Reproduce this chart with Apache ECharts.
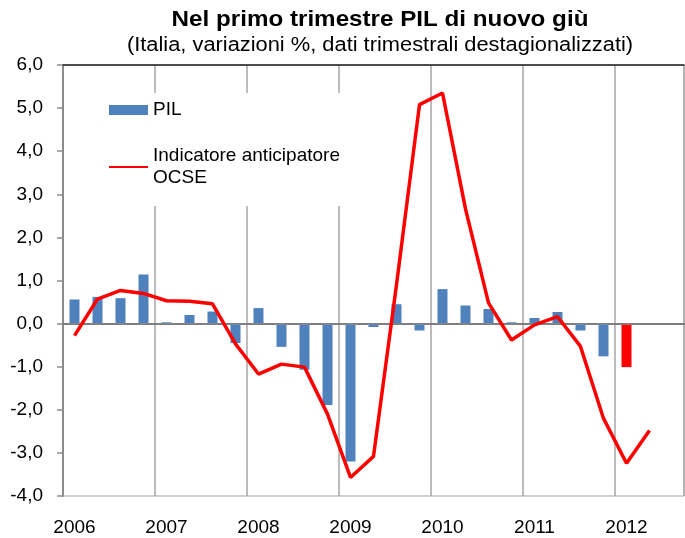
<!DOCTYPE html>
<html>
<head>
<meta charset="utf-8">
<script src="https://cdn.jsdelivr.net/npm/echarts@6/dist/echarts.min.js"></script>
<style>
  html, body { margin: 0; padding: 0; background: #fff; }
  #chart { width: 685px; height: 538px; }
</style>
</head>
<body>
<div id="chart"></div>
<script>
// trimestri 2006 T1 .. 2012 T3
const quarters = [
  '2006-T1', '2006-T2', '2006-T3', '2006-T4',
  '2007-T1', '2007-T2', '2007-T3', '2007-T4',
  '2008-T1', '2008-T2', '2008-T3', '2008-T4',
  '2009-T1', '2009-T2', '2009-T3', '2009-T4',
  '2010-T1', '2010-T2', '2010-T3', '2010-T4',
  '2011-T1', '2011-T2', '2011-T3', '2011-T4',
  '2012-T1', '2012-T2', '2012-T3'
]
// PIL, variazione % congiunturale
const pil = [
  0.56, 0.62, 0.59, 1.14,
  0.03, 0.20, 0.28, -0.45,
  0.36, -0.54, -1.07, -1.89,
  -3.20, -0.08, 0.45, -0.16,
  0.80, 0.42, 0.34, 0.03,
  0.13, 0.27, -0.16, -0.76,
  -1.01
]
// indicatore anticipatore OCSE
const ocse = [
  -0.28, 0.57, 0.77, 0.70,
  0.53, 0.52, 0.46, -0.47,
  -1.17, -0.94, -1.01, -2.10,
  -3.57, -3.08, 0.90, 5.08,
  5.35, 2.66, 0.48, -0.38,
  -0.03, 0.16, -0.53, -2.20,
  -3.24, -2.48
]
const yTicks = [-4, -3, -2, -1, 0, 1, 2, 3, 4, 5, 6]

const font = "'Liberation Sans', Arial, sans-serif"
const lastIdx = pil.length - 1

const option = {
  animation: false,
  textStyle: { fontFamily: font },
  // titolo come testo grafico (leggermente allargato come nell'originale)
  graphic: [
    {
      type: 'text', x: 380, y: 20, scaleX: 1.1,
      style: {
        text: 'Nel primo trimestre PIL di nuovo giù',
        font: "bold 22px 'Liberation Sans', Arial, sans-serif",
        fill: '#000', align: 'center', verticalAlign: 'middle'
      }
    },
    {
      type: 'text', x: 380, y: 46, scaleX: 1.12,
      style: {
        text: '(Italia, variazioni %, dati trimestrali destagionalizzati)',
        font: "19.5px 'Liberation Sans', Arial, sans-serif",
        fill: '#000', align: 'center', verticalAlign: 'middle'
      }
    }
  ],
  legend: {
    orient: 'vertical',
    left: 100,
    top: 93,
    padding: [6, 8, 6, 8],
    itemGap: 13,
    itemWidth: 39,
    itemHeight: 10,
    backgroundColor: '#fff',
    selectedMode: false,
    textStyle: { fontSize: 19, color: '#000', lineHeight: 22, fontFamily: font },
    data: [
      { name: 'PIL', icon: 'rect' },
      {
        name: 'Indicatore anticipatore OCSE',
        itemStyle: { opacity: 0 },
        textStyle: { padding: [22, 0, 0, 0] }
      }
    ],
    formatter(name) {
      return name.replace(' OCSE', '\nOCSE')
    }
  },
  grid: {
    left: 63, right: 1, top: 65, bottom: 42,
    show: true, borderColor: '#a6a6a6', borderWidth: 1
  },
  xAxis: [
    {
      type: 'category',
      data: quarters,
      axisLine: { lineStyle: { color: '#222', width: 1.5 } },
      axisTick: { show: false, interval: 3 },
      axisLabel: {
        interval: 3,
        margin: 22,
        fontSize: 19,
        color: '#000',
        formatter(v) { return v.slice(0, 4) }
      },
      splitLine: { show: true, interval: 3, lineStyle: { color: '#a6a6a6', width: 1.5 } }
    },
    {
      type: 'category',
      data: quarters,
      position: 'top',
      axisLine: { lineStyle: { color: '#222', width: 1.5 } },
      axisTick: { show: false },
      axisLabel: { show: false },
      splitLine: { show: false }
    }
  ],
  yAxis: {
    type: 'value',
    min: yTicks[0],
    max: yTicks[yTicks.length - 1],
    interval: 1,
    axisLine: { show: true, lineStyle: { color: '#8c8c8c', width: 2 } },
    axisTick: { show: true, inside: false, length: 6, lineStyle: { color: '#8c8c8c', width: 1.5 } },
    axisLabel: {
      margin: 20,
      fontSize: 19,
      color: '#000',
      formatter(v) { return v.toFixed(1).replace('.', ',') }
    },
    splitLine: { show: false }
  },
  series: [
    {
      name: 'PIL',
      type: 'bar',
      barWidth: 10,
      itemStyle: { color: '#4f81bd' },
      data: pil.map((v, i) => i === lastIdx ? { value: v, itemStyle: { color: '#ff0000' } } : v),
      markLine: {
        silent: true,
        symbol: 'none',
        label: { show: false },
        lineStyle: { color: '#8c8c8c', width: 1.5, type: 'solid' },
        data: [{ yAxis: 0 }]
      }
    },
    {
      name: 'Indicatore anticipatore OCSE',
      type: 'line',
      data: ocse,
      symbol: 'none',
      itemStyle: { color: '#ff0000' },
      lineStyle: { color: '#ff0000', width: 3.5 },
      z: 5
    }
  ]
}

const chart = echarts.init(document.getElementById('chart'))
chart.setOption(option)
</script>
</body>
</html>
